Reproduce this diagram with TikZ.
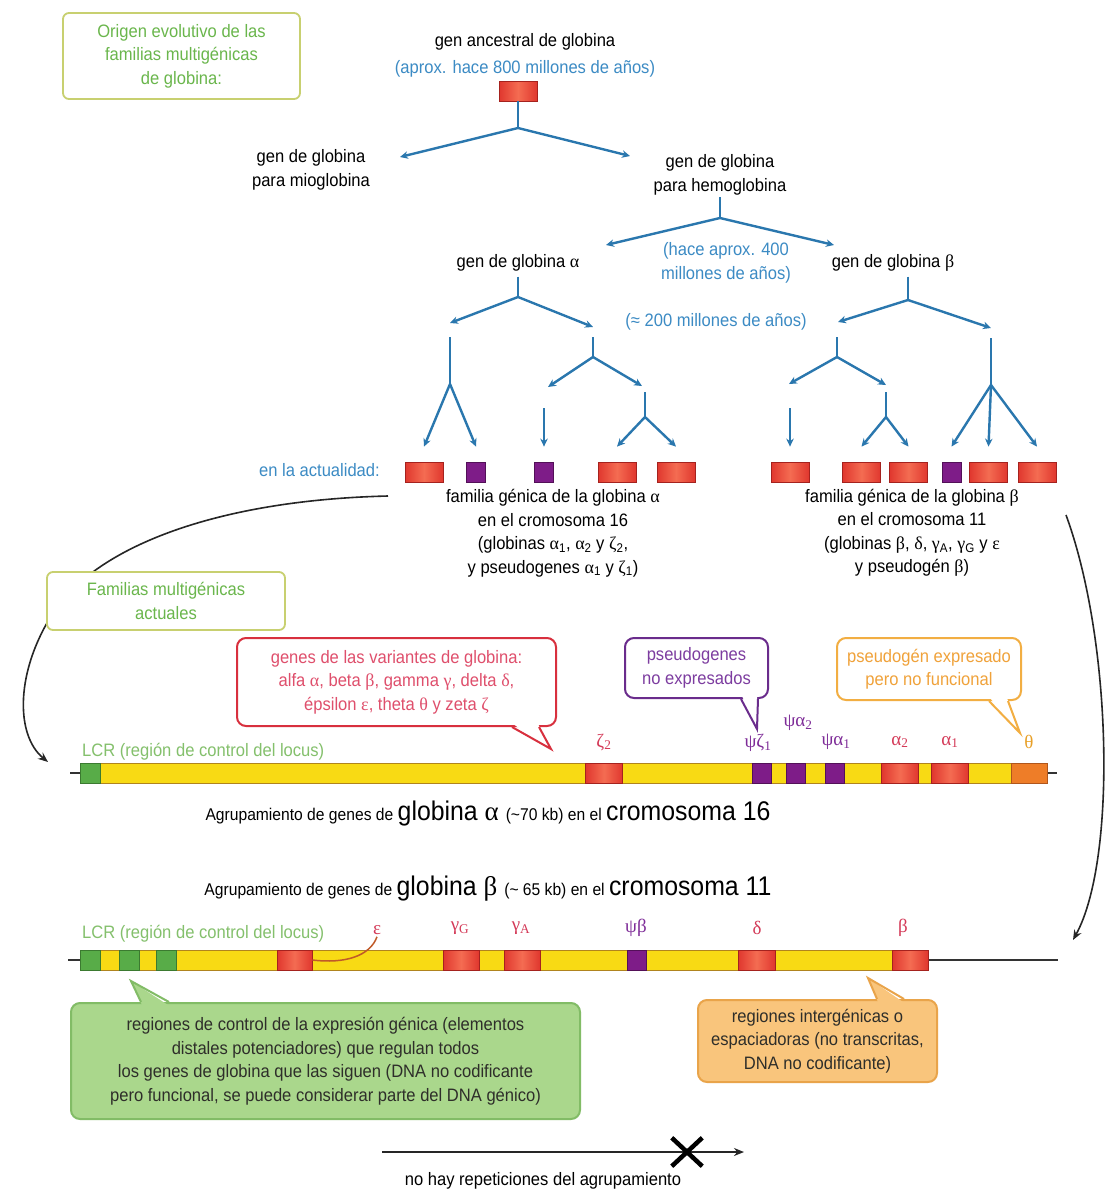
\documentclass[tikz,border=0pt]{standalone}
\usepackage{fontspec}
\setmainfont{Liberation Sans}[FakeStretch=0.92]
\newfontfamily\grk{Liberation Serif}
\usetikzlibrary{arrows.meta,calc,shapes.misc}
\definecolor{tblue}{HTML}{2A77AE}
\definecolor{btext}{HTML}{3C8BC4}
\definecolor{rdark}{HTML}{A5221E}
\definecolor{rmain}{HTML}{E0372E}
\definecolor{rlight}{HTML}{F46C52}
\definecolor{pmain}{HTML}{7E1C88}
\definecolor{pdark}{HTML}{531058}
\definecolor{ybar}{HTML}{F8DA14}
\definecolor{ybord}{HTML}{B0841E}
\definecolor{lgreen}{HTML}{58AC48}
\definecolor{lgreend}{HTML}{3B7A30}
\definecolor{oblock}{HTML}{EE7D28}
\definecolor{oblockd}{HTML}{B0561C}
\definecolor{lcrtext}{HTML}{84C06C}
\definecolor{boxgreen}{HTML}{6AB64C}
\definecolor{boxolive}{HTML}{C8D070}
\definecolor{calred}{HTML}{D8303E}
\definecolor{calredt}{HTML}{DF4F6C}
\definecolor{calpur}{HTML}{6A2C8C}
\definecolor{calpurt}{HTML}{7D3DA0}
\definecolor{calor}{HTML}{F2AE42}
\definecolor{calort}{HTML}{F0A23A}
\definecolor{gfill}{HTML}{AAD78C}
\definecolor{gbord}{HTML}{82BC66}
\definecolor{ofill}{HTML}{F9C57C}
\definecolor{obord}{HTML}{E9A44A}
\definecolor{darktext}{HTML}{2E2E2A}
\definecolor{labred}{HTML}{D43A58}
\definecolor{labpur}{HTML}{7E2C98}
\definecolor{labor}{HTML}{E8A028}
\definecolor{curvec}{HTML}{C05A28}
\newcommand\smallf{\fontsize{17}{19}\selectfont}
\newcommand\bigf{\fontsize{27}{29}\selectfont}
\newcommand\sbs[1]{\textsubscript{#1}}
\tikzset{
 txt/.style={font=\fontsize{18}{23.5}\selectfont, align=center, inner sep=0pt},
 btxt/.style={txt, text=btext},
 tline/.style={draw=tblue, line width=2.4pt},
 tarr/.style={tline, -{Stealth[length=8pt,width=7.5pt]}},
 rgene/.style={draw=rdark, line width=0.8pt, left color=rmain, right color=rmain, middle color=rlight, minimum width=38pt, minimum height=20pt, inner sep=0pt},
 pgene/.style={draw=pdark, line width=0.8pt, fill=pmain, minimum width=19pt, minimum height=20pt, inner sep=0pt},
 chrbar/.style={draw=ybord, line width=1pt, fill=ybar, minimum height=20pt, inner sep=0pt},
 lcrblk/.style={draw=lgreend, line width=0.8pt, fill=lgreen, minimum width=20pt, minimum height=20pt, inner sep=0pt},
 oblk/.style={draw=oblockd, line width=0.8pt, fill=oblock, minimum width=36pt, minimum height=20pt, inner sep=0pt},
 chrline/.style={draw=black!80, line width=1.2pt},
 glab/.style={font=\grk\fontsize{19}{22}\selectfont, inner sep=0pt},
 lcrlab/.style={txt, text=lcrtext, anchor=west},
 ttlbox/.style={txt, text=boxgreen, draw=boxolive, line width=1.8pt, rounded corners=6pt, fill=white},
 callout/.style={txt, line width=2pt, rounded corners=9pt, fill=white},
 bigarr/.style={draw=black!85, line width=1.6pt, -{Stealth[length=10pt,width=8pt]}},
}
\begin{document}
\begin{tikzpicture}[x=1pt,y=-1pt]
\useasboundingbox[fill=white] (0,0) rectangle (1105,1195);

% ---------- title box
\node[ttlbox, minimum width=237pt, minimum height=86pt] (orig) at (181.5,56) {Origen evolutivo de las\\familias multigénicas\\de globina:};

% ---------- tree top
\node[txt] (anc) at (525,42) {gen ancestral de globina};
\node[btxt] (anc2) at (525,69) {(aprox. hace 800 millones de años)};
\node[rgene] (g0) at (518,91) {};
\coordinate (j0) at (518,128);
\coordinate (e0L) at (400,157);
\coordinate (e0R) at (630,156);
\draw[tline] (g0.south) -- (j0);
\draw[tarr] (j0) -- (e0L);
\draw[tarr] (j0) -- (e0R);
\node[txt] (mio) at (311,170) {gen de globina\\para mioglobina};
\node[txt] (hemo) at (720,175) {gen de globina\\para hemoglobina};

\coordinate (j1) at (720,218);
\coordinate (e1L) at (606,245);
\coordinate (e1R) at (834,245);
\draw[tline] ([yshift=-2pt]hemo.south) -- (j1);
\draw[tarr] (j1) -- (e1L);
\draw[tarr] (j1) -- (e1R);
\node[txt] (ga) at (518,263) {gen de globina {\grk α}};
\node[btxt] (t400) at (726,263) {(hace aprox. 400\\millones de años)};
\node[txt] (gb) at (893,263) {gen de globina {\grk β}};
\node[btxt] (t200) at (716,322) {(≈ 200 millones de años)};

\coordinate (j2) at (518,297);
\coordinate (e2L) at (450,323);
\coordinate (e2R) at (593,327);
\path ([yshift=-5pt]ga.south) coordinate (gas);
\draw[tline] (gas) -- (j2);
\draw[tarr] (j2) -- (e2L);
\draw[tarr] (j2) -- (e2R);

\coordinate (j3) at (908,300);
\coordinate (e3L) at (838,322);
\coordinate (e3R) at (991,328);
\path ([yshift=-5pt]gb.south) coordinate (gbs);
\draw[tline] (gbs -| j3) -- (j3);
\draw[tarr] (j3) -- (e3L);
\draw[tarr] (j3) -- (e3R);

% ---------- present-day genes
\node[btxt, anchor=east] (act) at (380,470) {en la actualidad:};
\node[rgene] (a1) at (424,472) {};
\node[pgene] (a2) at (476,472) {};
\node[pgene] (a3) at (544,472) {};
\node[rgene] (a4) at (617,472) {};
\node[rgene] (a5) at (676,472) {};
\node[rgene] (b1) at (790,472) {};
\node[rgene] (b2) at (861.5,472) {};
\node[rgene] (b3) at (908.5,472) {};
\node[pgene] (b4) at (951.5,472) {};
\node[rgene] (b5) at (988.5,472) {};
\node[rgene] (b6) at (1037,472) {};

% alpha left
\coordinate (s1) at (450,337);
\coordinate (j4) at (450,384);
\draw[tline] (s1) -- (j4);
\draw[tarr] (j4) -- ([yshift=15pt]a1.north);
\draw[tarr] (j4) -- ([yshift=15pt]a2.north);
% alpha right
\coordinate (s2) at (593,337);
\coordinate (j5) at (593,357);
\coordinate (e5L) at (548,387);
\coordinate (e5R) at (642,386);
\draw[tline] (s2) -- (j5);
\draw[tarr] (j5) -- (e5L);
\draw[tarr] (j5) -- (e5R);
\coordinate (s3) at (544,408);
\draw[tarr] (s3) -- ([yshift=15pt]a3.north);
\coordinate (s4) at (645,392);
\coordinate (j6) at (645,417);
\draw[tline] (s4) -- (j6);
\draw[tarr] (j6) -- ([yshift=15pt]a4.north);
\draw[tarr] (j6) -- ([yshift=15pt]a5.north);
% beta left
\coordinate (s5) at (837,337);
\coordinate (j7) at (837,357);
\coordinate (e7L) at (789,384);
\coordinate (e7R) at (886,385);
\draw[tline] (s5) -- (j7);
\draw[tarr] (j7) -- (e7L);
\draw[tarr] (j7) -- (e7R);
\coordinate (s6) at (790,408);
\draw[tarr] (s6) -- ([yshift=15pt]b1.north);
\coordinate (s7) at (886,392);
\coordinate (j8) at (886,417);
\draw[tline] (s7) -- (j8);
\draw[tarr] (j8) -- ([yshift=15pt]b2.north);
\draw[tarr] (j8) -- ([yshift=15pt]b3.north);
% beta right
\coordinate (s8) at (991,338);
\coordinate (j9) at (991,385);
\draw[tline] (s8) -- (j9);
\draw[tarr] (j9) -- ([yshift=15pt]b4.north);
\draw[tarr] (j9) -- ([yshift=15pt]b5.north);
\draw[tarr] (j9) -- ([yshift=15pt]b6.north);

% ---------- family texts
\node[txt] (fa) at (553,533) {familia génica de la globina {\grk α}\\en el cromosoma 16\\(globinas {\grk α}\sbs{1}, {\grk α}\sbs{2} y {\grk ζ}\sbs{2},\\y pseudogenes {\grk α}\sbs{1} y {\grk ζ}\sbs{1})};
\node[txt] (fb) at (912,533) {familia génica de la globina {\grk β}\\en el cromosoma 11\\(globinas {\grk β}, {\grk δ}, {\grk γ}\sbs{A}, {\grk γ}\sbs{G} y {\grk ε}\\y pseudogén {\grk β})};

% ---------- curved arrows
\coordinate (cl0) at (388,496);
\coordinate (cl1) at (48,762);
\draw[bigarr] (cl0) .. controls (220,500) and (100,545) .. (55,610) .. controls (15,670) and (15,735) .. (cl1);
\coordinate (cr0) at (1066,515);
\coordinate (cr1) at (1073,940);
\draw[bigarr] (cr0) .. controls (1112,640) and (1117,860) .. (cr1);

\node[ttlbox, minimum width=238pt, minimum height=58pt] (fam) at (166,601) {Familias multigénicas\\actuales};

% ---------- callouts above chromosome 16
\node[callout, draw=calred, text=calredt, minimum width=319pt, minimum height=88pt] (rc) at (396.5,682) {genes de las variantes de globina:\\alfa {\grk α}, beta {\grk β}, gamma {\grk γ}, delta {\grk δ},\\épsilon {\grk ε}, theta {\grk θ} y zeta {\grk ζ}};
\coordinate (tr) at (551,749);
\fill[white] ($(rc.south west)+(277,-3)$) -- (tr) -- ($(rc.south west)+(302,-3)$) -- cycle;
\draw[calred, line width=2pt] ($(rc.south west)+(276,0)$) -- (tr) -- ($(rc.south west)+(303,0)$);

\node[callout, draw=calpur, text=calpurt, minimum width=143pt, minimum height=60pt] (pc) at (696.5,668) {pseudogenes\\no expresados};
\coordinate (tp) at (757,729);
\fill[white] ($(pc.south west)+(118,-3)$) -- (tp) -- ($(pc.south west)+(133,-3)$) -- cycle;
\draw[calpur, line width=2pt] ($(pc.south west)+(117,0)$) -- (tp) -- ($(pc.south west)+(134,0)$);

\node[callout, draw=calor, text=calort, minimum width=184pt, minimum height=62pt] (oc1) at (929,669) {pseudogén expresado\\pero no funcional};
\coordinate (to) at (1020,733);
\fill[white] ($(oc1.south west)+(154,-3)$) -- (to) -- ($(oc1.south west)+(171,-3)$) -- cycle;
\draw[calor, line width=2pt] ($(oc1.south west)+(153,0)$) -- (to) -- ($(oc1.south west)+(172,0)$);

% ---------- chromosome 16
\coordinate (l16a) at (70,773);
\coordinate (l16b) at (1057,773);
\draw[chrline] (l16a) -- (l16b);
\node[chrbar, minimum width=967pt] (bar16) at (563.5,773) {};
\node[lcrblk] (c16g) at (90,773) {};
\node[rgene, minimum width=37pt] (c16z2) at (604,773) {};
\node[pgene] (c16pz1) at (762,773) {};
\node[pgene] (c16pa2) at (796,773) {};
\node[pgene] (c16pa1) at (835,773) {};
\node[rgene, minimum width=37pt] (c16a2) at (900,773) {};
\node[rgene, minimum width=37pt] (c16a1) at (950,773) {};
\node[oblk] (c16t) at (1029,773) {};
\node[lcrlab] (lcr16) at (82,752) {LCR (región de control del locus)};
\node[glab, text=labred] (lz2) at (604,742) {ζ\sbs{2}};
\node[glab, text=labpur] (lpz1) at (758,743) {ψζ\sbs{1}};
\node[glab, text=labpur] (lpa2) at (798,723) {ψα\sbs{2}};
\node[glab, text=labpur] (lpa1) at (836,742) {ψα\sbs{1}};
\node[glab, text=labred] (la2) at (900,742) {α\sbs{2}};
\node[glab, text=labred] (la1) at (950,742) {α\sbs{1}};
\node[glab, text=labor] (lth) at (1029,742) {θ};

\node[inner sep=0pt] (cap16) at (488,814) {\smallf Agrupamiento de genes de \bigf globina {\grk α} \smallf(\textasciitilde 70 kb) en el \bigf cromosoma 16};
\node[inner sep=0pt] (cap11) at (488,889) {\smallf Agrupamiento de genes de \bigf globina {\grk β} \smallf(\textasciitilde{} 65 kb) en el \bigf cromosoma 11};

% ---------- chromosome 11
\coordinate (l11a) at (68,960);
\coordinate (l11b) at (1058,960);
\draw[chrline] (l11a) -- (l11b);
\node[chrbar, minimum width=847pt] (bar11) at (504.5,960) {};
\node[lcrblk] (c11g1) at (90.5,960) {};
\node[lcrblk] (c11g2) at (129,960) {};
\node[lcrblk] (c11g3) at (166,960) {};
\node[rgene, minimum width=35pt] (c11e) at (294.5,960) {};
\node[rgene, minimum width=36pt] (c11gg) at (461,960) {};
\node[rgene, minimum width=36pt] (c11ga) at (522,960) {};
\node[pgene] (c11pb) at (636.5,960) {};
\node[rgene, minimum width=37pt] (c11d) at (756.5,960) {};
\node[rgene, minimum width=36pt] (c11b) at (910,960) {};
\node[lcrlab] (lcr11) at (82,934) {LCR (región de control del locus)};
\node[glab, text=labred] (le) at (377,930) {ε};
\node[glab, text=labred] (lgg) at (460,928) {γ\sbs{G}};
\node[glab, text=labred] (lga) at (521,928) {γ\sbs{A}};
\node[glab, text=labpur] (lpb) at (636,928) {ψβ};
\node[glab, text=labred] (ld) at (757,928) {δ};
\node[glab, text=labred] (lb) at (903,928) {β};
\draw[curvec, line width=1.5pt] ([yshift=-2pt]le.south) .. controls (370,956) and (345,964) .. (c11e.east);

% ---------- bottom callouts
\node[callout, draw=gbord, fill=gfill, text=darktext, minimum width=509pt, minimum height=116pt] (gc) at (325.5,1061) {regiones de control de la expresión génica (elementos\\distales potenciadores) que regulan todos\\los genes de globina que las siguen (DNA no codificante\\pero funcional, se puede considerar parte del DNA génico)};
\coordinate (tg) at (131,981);
\fill[gfill] ($(gc.north west)+(72,3)$) -- (tg) -- ($(gc.north west)+(98,3)$) -- cycle;
\draw[gbord, line width=2pt] ($(gc.north west)+(71,0)$) -- (tg) -- ($(gc.north west)+(99,0)$);

\node[callout, draw=obord, fill=ofill, text=darktext, minimum width=239pt, minimum height=82pt] (oc2) at (817.5,1041) {regiones intergénicas o\\espaciadoras (no transcritas,\\DNA no codificante)};
\coordinate (tq) at (868,978);
\fill[ofill] ($(oc2.north west)+(181,3)$) -- (tq) -- ($(oc2.north west)+(206,3)$) -- cycle;
\draw[obord, line width=2pt] ($(oc2.north west)+(180,0)$) -- (tq) -- ($(oc2.north west)+(207,0)$);

% ---------- bottom arrow
\coordinate (ba) at (382,1152);
\coordinate (bb) at (744,1152);
\draw[bigarr] (ba) -- (bb);
\node[draw=black, cross out, line width=4.5pt, minimum width=26pt, minimum height=24pt, inner sep=0pt] (xm) at (687,1152) {};
\node[txt] (norep) at (543,1181) {no hay repeticiones del agrupamiento};
\end{tikzpicture}
\end{document}
